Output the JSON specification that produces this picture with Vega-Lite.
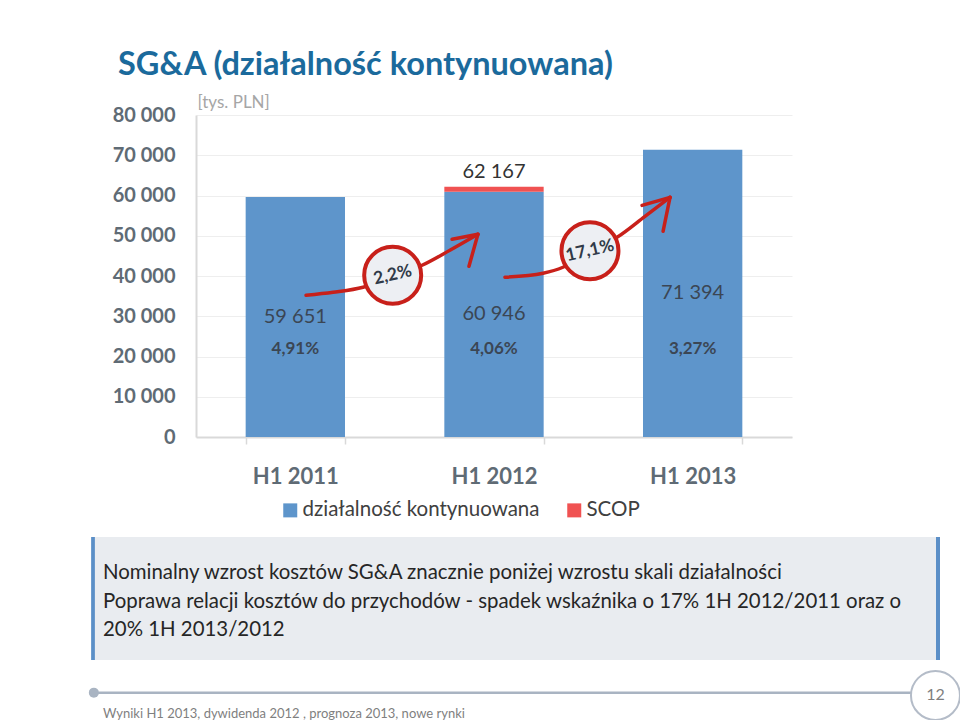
{
  "$schema": "https://vega.github.io/schema/vega-lite/v6.json",
  "padding": {"left": 88, "top": 48, "right": 0, "bottom": 0},
  "config": {
    "font": "Lato",
    "view": {"stroke": null},
    "locale": {"number": {"decimal": ",", "thousands": " ", "grouping": [3], "currency": ["", " zł"]}}
  },
  "datasets": {
    "sga": [
      {"period": "H1 2011", "segment": "działalność kontynuowana", "value": 59651, "ratio": 0.0491},
      {"period": "H1 2012", "segment": "działalność kontynuowana", "value": 60946, "ratio": 0.0406},
      {"period": "H1 2012", "segment": "SCOP", "value": 1221},
      {"period": "H1 2013", "segment": "działalność kontynuowana", "value": 71394, "ratio": 0.0327}
    ],
    "total": [{"period": "H1 2012", "value": 62167}],
    "growth": [
      {"pos": 0.99, "value": 40186, "growth": 0.0217},
      {"pos": 1.983, "value": 46263, "growth": 0.1714}
    ],
    "arrows": [
      {"seg": "a1", "i": 1, "pos": 0.554, "value": 35225},
      {"seg": "a1", "i": 2, "pos": 0.69, "value": 35970},
      {"seg": "a1", "i": 3, "pos": 0.841, "value": 37209},
      {"seg": "a1", "i": 4, "pos": 0.99, "value": 39938},
      {"seg": "a1", "i": 5, "pos": 1.138, "value": 42666},
      {"seg": "a1", "i": 6, "pos": 1.278, "value": 46387},
      {"seg": "a1", "i": 7, "pos": 1.419, "value": 50356},
      {"seg": "a1b1", "i": 1, "pos": 1.289, "value": 49116},
      {"seg": "a1b1", "i": 2, "pos": 1.419, "value": 50356},
      {"seg": "a1b2", "i": 1, "pos": 1.374, "value": 42418},
      {"seg": "a1b2", "i": 2, "pos": 1.419, "value": 50356},
      {"seg": "a2", "i": 1, "pos": 1.555, "value": 39690},
      {"seg": "a2", "i": 2, "pos": 1.747, "value": 40682},
      {"seg": "a2", "i": 3, "pos": 1.847, "value": 42170},
      {"seg": "a2", "i": 4, "pos": 1.983, "value": 46263},
      {"seg": "a2", "i": 5, "pos": 2.119, "value": 49612},
      {"seg": "a2", "i": 6, "pos": 2.26, "value": 54821},
      {"seg": "a2", "i": 7, "pos": 2.386, "value": 59534},
      {"seg": "a2b1", "i": 1, "pos": 2.245, "value": 57551},
      {"seg": "a2b1", "i": 2, "pos": 2.386, "value": 59534},
      {"seg": "a2b2", "i": 1, "pos": 2.351, "value": 51101},
      {"seg": "a2b2", "i": 2, "pos": 2.386, "value": 59534}
    ],
    "notes": [
      {"line": 1, "text": "Nominalny wzrost kosztów SG&A znacznie poniżej wzrostu skali działalności"},
      {"line": 2, "text": "Poprawa relacji kosztów do przychodów - spadek wskaźnika o 17% 1H 2012/2011 oraz o"},
      {"line": 3, "text": "20% 1H 2013/2012"}
    ],
    "footer": [{"text": "Wyniki H1 2013, dywidenda 2012 , prognoza 2013, nowe rynki", "page": "12"}]
  },
  "spacing": 4,
  "vconcat": [
    {
      "spacing": 0,
      "hconcat": [
        {
          "width": 1,
          "height": 1,
          "data": {"values": []},
          "mark": {"type": "point", "opacity": 0},
          "encoding": {}
        },
        {
          "width": 596,
          "height": 322,
          "title": {
            "text": "SG&A (działalność kontynuowana)",
            "anchor": "start",
            "frame": "bounds",
            "dx": 24,
            "offset": 12,
            "fontSize": 32.5,
            "fontWeight": 700,
            "font": "Lato",
            "color": "#1B6A9C"
          },
          "resolve": {"scale": {"x": "independent"}},
          "layer": [
            {
              "layer": [
                {
                  "data": {"name": "sga"},
                  "mark": {"type": "bar"},
                  "encoding": {
                    "x": {
                      "field": "period",
                      "type": "nominal",
                      "scale": {"paddingInner": 0.5, "paddingOuter": 0.25},
                      "axis": {
                        "title": null,
                        "labelAngle": 0,
                        "labelFontSize": 22,
                        "labelFontWeight": "bold",
                        "labelColor": "#5F6B75",
                        "labelPadding": 22,
                        "tickBand": "extent",
                        "tickSize": 7,
                        "tickColor": "#D9D9D9",
                        "tickWidth": 1.5,
                        "domainColor": "#D9D9D9",
                        "domainWidth": 2,
                        "grid": false,
                        "minExtent": 94
                      }
                    },
                    "y": {
                      "field": "value",
                      "type": "quantitative",
                      "scale": {"domain": [0, 80000]},
                      "axis": {
                        "title": "[tys. PLN]",
                        "titleAngle": 0,
                        "titleX": 1,
                        "titleY": -13,
                        "titleAlign": "left",
                        "titleBaseline": "middle",
                        "titleFontSize": 17,
                        "titleFontWeight": "normal",
                        "titleColor": "#A6A6A6",
                        "values": [0, 10000, 20000, 30000, 40000, 50000, 60000, 70000, 80000],
                        "format": ",d",
                        "labelFontSize": 20,
                        "labelFontWeight": "bold",
                        "labelColor": "#5F6B75",
                        "labelPadding": 21,
                        "ticks": false,
                        "domainColor": "#D9D9D9",
                        "domainWidth": 2,
                        "gridColor": "#EEEEEE",
                        "gridWidth": 1,
                        "minExtent": 102
                      }
                    },
                    "color": {
                      "field": "segment",
                      "type": "nominal",
                      "sort": ["działalność kontynuowana", "SCOP"],
                      "scale": {"domain": ["działalność kontynuowana", "SCOP"], "range": ["#5E95CB", "#F05252"]},
                      "legend": {
                        "title": null,
                        "orient": "none",
                        "legendX": 187,
                        "legendY": 385,
                        "direction": "horizontal",
                        "symbolType": "square",
                        "symbolSize": 196,
                        "symbolStrokeWidth": 0,
                        "symbolOpacity": 1,
                        "labelFontSize": 20.5,
                        "labelColor": "#404040",
                        "labelOffset": 2,
                        "labelLimit": 400,
                        "columnPadding": 24,
                        "padding": 0
                      }
                    }
                  }
                },
                {
                  "data": {"name": "sga"},
                  "transform": [{"filter": "datum.segment === 'działalność kontynuowana'"}],
                  "mark": {"type": "text", "fontSize": 20, "color": "#3B4654", "baseline": "middle"},
                  "encoding": {
                    "x": {"field": "period", "type": "nominal"},
                    "y": {"field": "value", "type": "quantitative", "stack": "zero", "bandPosition": 0.5},
                    "text": {"field": "value", "type": "quantitative", "format": ",d"}
                  }
                },
                {
                  "data": {"name": "sga"},
                  "transform": [{"filter": "datum.segment === 'działalność kontynuowana'"}],
                  "mark": {"type": "text", "fontSize": 17, "fontWeight": "bold", "color": "#3B4654", "baseline": "middle"},
                  "encoding": {
                    "x": {"field": "period", "type": "nominal"},
                    "y": {"datum": 21800},
                    "text": {"field": "ratio", "type": "quantitative", "format": ".2%"}
                  }
                },
                {
                  "data": {"name": "total"},
                  "mark": {"type": "text", "fontSize": 20, "color": "#333333", "baseline": "alphabetic", "dy": -9},
                  "encoding": {
                    "x": {"field": "period", "type": "nominal"},
                    "y": {"field": "value", "type": "quantitative", "stack": null},
                    "text": {"field": "value", "type": "quantitative", "format": ",d"}
                  }
                }
              ]
            },
            {
              "layer": [
                {
                  "data": {"name": "arrows"},
                  "mark": {"type": "line", "color": "#C8201A", "strokeWidth": 3.5, "strokeCap": "round", "interpolate": "monotone"},
                  "encoding": {
                    "x": {"field": "pos", "type": "quantitative", "scale": {"domain": [0, 3]}, "axis": null},
                    "y": {"field": "value", "type": "quantitative"},
                    "detail": {"field": "seg"},
                    "order": {"field": "i"}
                  }
                },
                {
                  "data": {"name": "growth"},
                  "mark": {"type": "point", "shape": "circle", "filled": true, "fill": "#EDEFF3", "stroke": "#C8201A", "strokeWidth": 4, "size": 3250, "opacity": 1},
                  "encoding": {
                    "x": {"field": "pos", "type": "quantitative"},
                    "y": {"field": "value", "type": "quantitative"}
                  }
                },
                {
                  "data": {"name": "growth"},
                  "mark": {"type": "text", "fontSize": 17.5, "fontWeight": "bold", "color": "#303A48", "angle": -13, "baseline": "middle"},
                  "encoding": {
                    "x": {"field": "pos", "type": "quantitative"},
                    "y": {"field": "value", "type": "quantitative"},
                    "text": {"field": "growth", "type": "quantitative", "format": ".1%"}
                  }
                }
              ]
            }
          ]
        }
      ]
    },
    {
      "width": 845,
      "height": 123,
      "view": {"fill": "#E9ECF0"},
      "data": {"name": "notes"},
      "layer": [
        {
          "mark": {"type": "text", "fontSize": 20.4, "color": "#262626", "align": "left", "baseline": "middle", "dx": 10},
          "encoding": {
            "x": {"datum": 0, "type": "quantitative", "scale": {"domain": [0, 1]}, "axis": null},
            "y": {"field": "line", "type": "ordinal", "scale": {"type": "point", "range": [36, 93], "padding": 0}, "axis": null},
            "text": {"field": "text"}
          }
        },
        {
          "mark": {"type": "rule", "color": "#5B8FC7", "strokeWidth": 3},
          "encoding": {"x": {"datum": 0, "type": "quantitative"}}
        },
        {
          "mark": {"type": "rule", "color": "#5B8FC7", "strokeWidth": 4},
          "encoding": {"x": {"datum": 1, "type": "quantitative"}}
        }
      ]
    },
    {
      "width": 845,
      "height": 52,
      "data": {"name": "footer"},
      "layer": [
        {
          "mark": {"type": "rule", "color": "#A9B4C2", "strokeWidth": 2.5},
          "encoding": {
            "x": {"datum": 0, "type": "quantitative", "scale": {"domain": [0, 1]}, "axis": null},
            "x2": {"datum": 0.99},
            "y": {"datum": 30, "type": "quantitative", "scale": {"domain": [0, 52]}, "axis": null}
          }
        },
        {
          "mark": {"type": "point", "shape": "circle", "filled": true, "color": "#A9B4C2", "size": 100, "opacity": 1},
          "encoding": {
            "x": {"datum": 0.001, "type": "quantitative"},
            "y": {"datum": 30, "type": "quantitative"}
          }
        },
        {
          "mark": {"type": "point", "shape": "circle", "filled": true, "fill": "#FFFFFF", "stroke": "#B4BCC8", "strokeWidth": 2, "size": 2400, "opacity": 1},
          "encoding": {
            "x": {"datum": 0.997, "type": "quantitative"},
            "y": {"datum": 27, "type": "quantitative"}
          }
        },
        {
          "mark": {"type": "text", "fontSize": 16, "color": "#7F7F7F", "baseline": "middle"},
          "encoding": {
            "x": {"datum": 0.997, "type": "quantitative"},
            "y": {"datum": 27, "type": "quantitative"},
            "text": {"field": "page"}
          }
        },
        {
          "mark": {"type": "text", "fontSize": 13, "color": "#7F7F7F", "align": "left", "baseline": "middle", "dx": 10},
          "encoding": {
            "x": {"datum": 0, "type": "quantitative"},
            "y": {"datum": 7, "type": "quantitative"},
            "text": {"field": "text"}
          }
        }
      ]
    }
  ]
}
